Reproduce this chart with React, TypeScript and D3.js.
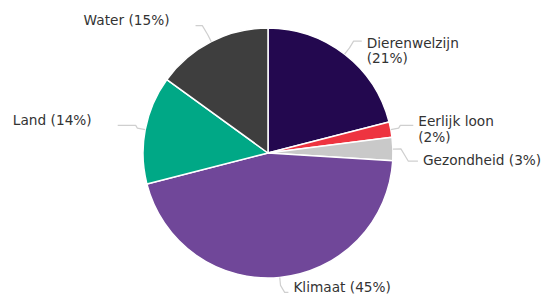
import React from "react";
import * as d3 from "d3";

const categories = ["Dierenwelzijn", "Eerlijk loon", "Gezondheid", "Klimaat", "Land", "Water"];
const values = [21, 2, 3, 45, 14, 15];
const colors = ["#23084f", "#ee3440", "#c9c9c9", "#704799", "#00a886", "#3e3e3e"];
const labelLines = [
  ["Dierenwelzijn", "(21%)"],
  ["Eerlijk loon", "(2%)"],
  ["Gezondheid (3%)"],
  ["Klimaat (45%)"],
  ["Land (14%)"],
  ["Water (15%)"],
];

// label layout nudges (relative to polar anchor)
const connDy = [9, 1, 13, -13, 1, 9];
const connDx = [0, -5, -3, 6, 0, -3];
const textDy = [2, -4, -1, -5, -5, -5];

const W = 550;
const H = 304;
const cx = 268;
const cy = 153;
const R = 125;
const LABEL_DIST = 28;
const LINE_H = 15.5;

export default function App() {
  const data = categories.map((c, i) => ({ name: c, value: values[i], color: colors[i], lines: labelLines[i] }));
  const pie = d3.pie<any>().sort(null).value((d) => d.value);
  const arcs = pie(data);
  const arcGen = d3.arc<any>().innerRadius(0).outerRadius(R);
  const line = d3.line<[number, number]>();

  const polar = (a: number, r: number): [number, number] => [cx + r * Math.sin(a), cy - r * Math.cos(a)];

  return (
    <div style={{ position: "fixed", left: 0, top: 0 }}>
      <svg width={W} height={H} style={{ display: "block", fontFamily: "'DejaVu Sans', sans-serif" }}>
        <rect width={W} height={H} fill="#fff" />
        <g transform={`translate(${cx},${cy})`}>
          {arcs.map((a, i) => (
            <path key={i} d={arcGen(a) as string} fill={a.data.color} stroke="#fff" strokeWidth={1.5} strokeLinejoin="round" />
          ))}
        </g>
        {arcs.map((a, i) => {
          const mid = (a.startAngle + a.endAngle) / 2;
          const right = Math.sin(mid) >= 0 || i === 3;
          const sign = right ? 1 : -1;
          const edge = polar(mid, R);
          const brk = polar(mid, R + 8);
          const anchor = polar(mid, R + LABEL_DIST);
          const connY = anchor[1] + connDy[i];
          const connX = anchor[0] + connDx[i];
          let crook = brk[0] + sign * Math.abs(connY - brk[1]) * 0.6;
          crook = right ? Math.min(crook, connX) : Math.max(crook, connX);
          const pts: [number, number][] = [edge, brk, [crook, connY], [connX, connY]];
          const tx = right ? connX + 5 : connX - 26;
          const ty = connY + textDy[i];
          return (
            <g key={"l" + i}>
              <path d={line(pts) as string} fill="none" stroke="#cfcfcf" strokeWidth={1.2} strokeLinejoin="round" />
              <text x={tx} y={ty} textAnchor={right ? "start" : "end"} fontSize={13.7} fill="#333">
                {a.data.lines.map((l: string, j: number) => (
                  <tspan key={j} x={tx} y={ty + j * LINE_H} dy="0.35em">
                    {l}
                  </tspan>
                ))}
              </text>
            </g>
          );
        })}
      </svg>
    </div>
  );
}
